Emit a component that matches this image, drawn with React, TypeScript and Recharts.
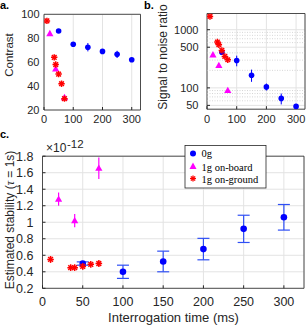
import React from "react";
import {
  ScatterChart,
  Scatter,
  XAxis,
  YAxis,
  CartesianGrid,
  ErrorBar,
  ReferenceArea,
  ReferenceLine,
} from "recharts";

// interrogation times (ms)
const zeroGTimes = [50, 100, 150, 200, 250, 300];
const boardTimes = [20, 40, 70];
const groundTimes = [10, 35, 40, 50, 60, 70];

// a. contrast
const zeroGContrast = [86, 75, 72.5, 69, 66.5, 62];
const zeroGContrastErr = [0.5, 0.5, 3.5, 2, 3, 0.5];
const boardContrast = [84, 54.5, 30.5];
const groundContrast = [94.5, 64, 58, 50, 42, 29.5];

// b. signal to noise ratio, errors as [below, above]
const zeroGSnr = [410, 295, 165, 104, 66, 48];
const zeroGSnrErr = [[20, 20], [60, 63], [38, 41], [14, 15], [14, 14], [4, 5]];
const boardSnr = [372, 244, 91];
const groundSnr = [1690, 615, 553, 441, 348, 305];

// c. estimated stability at tau = 1s (x 1e-12)
const zeroGStab = [0.5, 0.4, 0.525, 0.675, 0.92, 1.06];
const zeroGStabErr = [0.02, 0.08, 0.125, 0.13, 0.165, 0.155];
const boardStab = [1.28, 1.02, 1.655];
const boardStabErr = [0.08, 0.08, 0.13];
const groundStab = [0.55, 0.45, 0.45, 0.465, 0.49, 0.5];
const groundStabErr = [0.04, 0.015, 0.015, 0.035, 0.02, 0.04];

const ticksMs = [0, 100, 200, 300];
const ticksMsC = [0, 50, 100, 150, 200, 250, 300];
const ticksContrast = [20, 40, 60, 80, 100];
const ticksSnr = [50, 100, 500, 1000];
const minorSnr = [60, 70, 80, 90, 200, 300, 400, 600, 700, 800, 900];
const ticksStab = [0.2, 0.4, 0.6, 0.8, 1, 1.2, 1.4, 1.6, 1.8];
const legendLabels = ["0g", "1g on-board", "1g on-ground"];

const BLUE = "#0000ff";
const BLUE_ERR = "#2f4ff5";
const MAG = "#ff00ff";
const RED = "#ff0000";
const AX = "#262626";
const GRID = "#e3e3e3";
const FONT = "'Liberation Sans', Arial, Helvetica, sans-serif";
const SERIF = "'Liberation Serif', 'Times New Roman', serif";

const rows = (t: number[], v: number[], e?: any[]) =>
  t.map((x, i) => ({ t: x, v: v[i], e: e ? e[i] : 0 }));

const dot = (r: number) => (p: any) => <circle cx={p.cx} cy={p.cy} r={r} fill={BLUE} />;
const tri = (s: number) => (p: any) => (
  <polygon
    points={`${p.cx},${p.cy - s} ${p.cx - s},${p.cy + s * 0.75} ${p.cx + s},${p.cy + s * 0.75}`}
    fill={MAG}
  />
);
const star = (s: number) => (p: any) => {
  const d = s * 0.72;
  return (
    <g stroke={RED} strokeWidth={1.5}>
      <line x1={p.cx} y1={p.cy - s} x2={p.cx} y2={p.cy + s} />
      <line x1={p.cx - s} y1={p.cy} x2={p.cx + s} y2={p.cy} />
      <line x1={p.cx - d} y1={p.cy - d} x2={p.cx + d} y2={p.cy + d} />
      <line x1={p.cx - d} y1={p.cy + d} x2={p.cx + d} y2={p.cy - d} />
    </g>
  );
};

const tickAB = { fontSize: 11, fill: AX, fontFamily: FONT };
const tickC = { fontSize: 12.5, fill: AX, fontFamily: FONT };
const fmtStab = (v: number) => String(Math.round(v * 10) / 10);

function App() {
  return (
    <div style={{ position: "absolute", left: 0, top: 0, width: 307, height: 326, background: "#fff" }}>
      {/* a. contrast */}
      <div style={{ position: "absolute", left: 0, top: 0 }}>
        <ScatterChart width={150} height={130} margin={{ top: 14.3, right: 9.5, bottom: 0, left: 0 }}>
          <CartesianGrid stroke={GRID} xAxisId="xa" yAxisId="ya" />
          <XAxis xAxisId="xa" type="number" dataKey="t" domain={[0, 330]} ticks={ticksMs} interval={0}
            allowDataOverflow height={20} axisLine={false} tickLine={{ stroke: AX }} tickSize={-3} tickMargin={8}
            tick={tickAB} />
          <YAxis yAxisId="ya" type="number" dataKey="v" domain={[20, 100]} ticks={ticksContrast} interval={0}
            allowDataOverflow width={44} axisLine={false} tickLine={{ stroke: AX }} tickSize={-3} tick={false} />
          <XAxis xAxisId="xa-top" orientation="top" type="number" domain={[0, 330]} ticks={ticksMs} interval={0}
            height={0} allowDataOverflow axisLine={false} tick={false} tickLine={{ stroke: AX }} tickSize={-3} />
          <YAxis yAxisId="ya-right" orientation="right" type="number" domain={[20, 100]} ticks={ticksContrast}
            interval={0} width={0} allowDataOverflow axisLine={false} tick={false} tickLine={{ stroke: AX }}
            tickSize={-3} />
          {/* contrast tick labels, placed by the y scale */}
          {ticksContrast.map((v) => (
            <ReferenceLine key={v} xAxisId="xa" yAxisId="ya" y={v} stroke="none"
              label={{ value: v, position: "left", offset: 4.5, fill: AX, fontSize: 11, fontFamily: FONT }} />
          ))}
          <ReferenceArea xAxisId="xa" yAxisId="ya" x1={0} x2={330} y1={20} y2={100} fill="none" stroke={AX}
            strokeWidth={0.8} />
          <Scatter xAxisId="xa" yAxisId="ya" data={rows(zeroGTimes, zeroGContrast, zeroGContrastErr)}
            shape={dot(2.8)} isAnimationActive={false}>
            <ErrorBar dataKey="e" direction="y" width={0} stroke={BLUE} strokeWidth={1} isAnimationActive={false} />
          </Scatter>
          <Scatter xAxisId="xa" yAxisId="ya" data={rows(boardTimes, boardContrast)} shape={tri(3.6)}
            isAnimationActive={false} />
          <Scatter xAxisId="xa" yAxisId="ya" data={rows(groundTimes, groundContrast)} shape={star(3.2)}
            isAnimationActive={false} />
        </ScatterChart>
      </div>

      {/* b. signal to noise ratio */}
      <div style={{ position: "absolute", left: 150, top: 0 }}>
        <ScatterChart width={157} height={130} margin={{ top: 13.5, right: 2, bottom: 0, left: 0 }}>
          <CartesianGrid stroke={GRID} xAxisId="xb" yAxisId="yb" />
          {minorSnr.map((y) => (
            <ReferenceLine key={y} xAxisId="xb" yAxisId="yb" y={y} stroke="#c4c4c4" strokeWidth={0.7}
              strokeDasharray="1 1.5" />
          ))}
          <XAxis xAxisId="xb" type="number" dataKey="t" domain={[0, 330]} ticks={ticksMs} interval={0}
            allowDataOverflow height={20.8} axisLine={false} tickLine={{ stroke: AX }} tickSize={-3} tickMargin={8.5}
            tick={tickAB} />
          <YAxis yAxisId="yb" type="number" dataKey="v" scale="log" domain={[43, 1900]} ticks={ticksSnr} interval={0}
            allowDataOverflow width={57} axisLine={false} tickLine={{ stroke: AX }} tickSize={-3} tickMargin={11.5}
            tick={tickAB} />
          <XAxis xAxisId="xb-top" orientation="top" type="number" domain={[0, 330]} ticks={ticksMs} interval={0}
            height={0} allowDataOverflow axisLine={false} tick={false} tickLine={{ stroke: AX }} tickSize={-3} />
          <YAxis yAxisId="yb-right" orientation="right" type="number" scale="log" domain={[43, 1900]}
            ticks={ticksSnr} interval={0} width={0} allowDataOverflow axisLine={false} tick={false}
            tickLine={{ stroke: AX }} tickSize={-3} />
          <ReferenceArea xAxisId="xb" yAxisId="yb" x1={0} x2={330} y1={43} y2={1900} fill="none" stroke={AX}
            strokeWidth={0.8} />
          <Scatter xAxisId="xb" yAxisId="yb" data={rows(zeroGTimes, zeroGSnr, zeroGSnrErr)} shape={dot(2.8)}
            isAnimationActive={false}>
            <ErrorBar dataKey="e" direction="y" width={0} stroke={BLUE} strokeWidth={1} isAnimationActive={false} />
          </Scatter>
          <Scatter xAxisId="xb" yAxisId="yb" data={rows(boardTimes, boardSnr)} shape={tri(3.6)}
            isAnimationActive={false} />
          <Scatter xAxisId="xb" yAxisId="yb" data={rows(groundTimes, groundSnr)} shape={star(3.2)}
            isAnimationActive={false} />
        </ScatterChart>
      </div>

      {/* c. estimated stability */}
      <div style={{ position: "absolute", left: 0, top: 140 }}>
        <ScatterChart width={307} height={186} margin={{ top: 16.2, right: 3, bottom: 0, left: 0 }}>
          <CartesianGrid stroke={GRID} xAxisId="xc" yAxisId="yc" />
          <XAxis xAxisId="xc" type="number" dataKey="t" domain={[0, 325]} ticks={ticksMsC} interval={0}
            allowDataOverflow height={37.7} axisLine={false} tickLine={{ stroke: AX }} tickSize={-3}
            tickMargin={11.7} tick={tickC} />
          <YAxis yAxisId="yc" type="number" dataKey="v" domain={[0.2, 1.8]} ticks={ticksStab} interval={0}
            tickFormatter={fmtStab} allowDataOverflow width={42.5} axisLine={false} tickLine={{ stroke: AX }}
            tickSize={-3} tickMargin={12} tick={tickC} />
          <XAxis xAxisId="xc-top" orientation="top" type="number" domain={[0, 325]} ticks={ticksMsC} interval={0}
            height={0} allowDataOverflow axisLine={false} tick={false} tickLine={{ stroke: AX }} tickSize={-3} />
          <YAxis yAxisId="yc-right" orientation="right" type="number" domain={[0.2, 1.8]} ticks={ticksStab}
            interval={0} width={0} allowDataOverflow axisLine={false} tick={false} tickLine={{ stroke: AX }}
            tickSize={-3} />
          <ReferenceArea xAxisId="xc" yAxisId="yc" x1={0} x2={325} y1={0.2} y2={1.8} fill="none" stroke={AX}
            strokeWidth={0.8} />
          <Scatter xAxisId="xc" yAxisId="yc" data={rows(zeroGTimes, zeroGStab, zeroGStabErr)} shape={dot(3.3)}
            isAnimationActive={false}>
            <ErrorBar dataKey="e" direction="y" width={6} stroke={BLUE_ERR} strokeWidth={1.2}
              isAnimationActive={false} />
          </Scatter>
          <Scatter xAxisId="xc" yAxisId="yc" data={rows(boardTimes, boardStab, boardStabErr)} shape={tri(3.6)}
            isAnimationActive={false}>
            <ErrorBar dataKey="e" direction="y" width={0} stroke={MAG} strokeWidth={1.2} isAnimationActive={false} />
          </Scatter>
          <Scatter xAxisId="xc" yAxisId="yc" data={rows(groundTimes, groundStab, groundStabErr)} shape={star(3.3)}
            isAnimationActive={false}>
            <ErrorBar dataKey="e" direction="y" width={0} stroke={RED} strokeWidth={1.2} isAnimationActive={false} />
          </Scatter>
        </ScatterChart>
      </div>

      {/* titles, panel letters and legend */}
      <svg width={307} height={326} style={{ position: "absolute", left: 0, top: 0, pointerEvents: "none" }}>
        <g fontFamily={FONT} fill={AX}>
          <text x={0} y={9} fontSize={11} fontWeight="bold" fill="#000">a.</text>
          <text x={144} y={9} fontSize={11} fontWeight="bold" fill="#000">b.</text>
          <text x={0} y={138} fontSize={11} fontWeight="bold" fill="#000">c.</text>
          <text transform="translate(12.5,55) rotate(-90)" textAnchor="middle" fontSize={11.5}>Contrast</text>
          <text transform="translate(166.5,57) rotate(-90)" textAnchor="middle" fontSize={12}>Signal to noise ratio</text>
          <text transform="translate(14,220) rotate(-90)" textAnchor="middle" fontSize={12}>
            Estimated stability (<tspan fontFamily={SERIF} fontStyle="italic">τ</tspan> = 1s)
          </text>
          <text x={173.5} y={322} textAnchor="middle" fontSize={13}>Interrogation time (ms)</text>
          <text x={46} y={152} fontSize={12}>×10</text>
          <text x={67} y={147.5} fontSize={11.5}>-12</text>
        </g>
        <g fontFamily={SERIF} fontSize={10.5} fill="#000">
          <rect x={185} y={145.5} width={81} height={42.5} fill="#fff" stroke={AX} strokeWidth={0.8} />
          <circle cx={193} cy={153.5} r={3} fill={BLUE} />
          <polygon points="193,162.5 189.5,169 196.5,169" fill={MAG} />
          <g stroke={RED} strokeWidth={1.3}>
            <line x1={193} y1={175.5} x2={193} y2={181.5} />
            <line x1={190} y1={178.5} x2={196} y2={178.5} />
            <line x1={190.9} y1={176.4} x2={195.1} y2={180.6} />
            <line x1={190.9} y1={180.6} x2={195.1} y2={176.4} />
          </g>
          <text x={201.5} y={157}>{legendLabels[0]}</text>
          <text x={201.5} y={170.5}>{legendLabels[1]}</text>
          <text x={201.5} y={182.5}>{legendLabels[2]}</text>
        </g>
      </svg>
    </div>
  );
}

export default App;
